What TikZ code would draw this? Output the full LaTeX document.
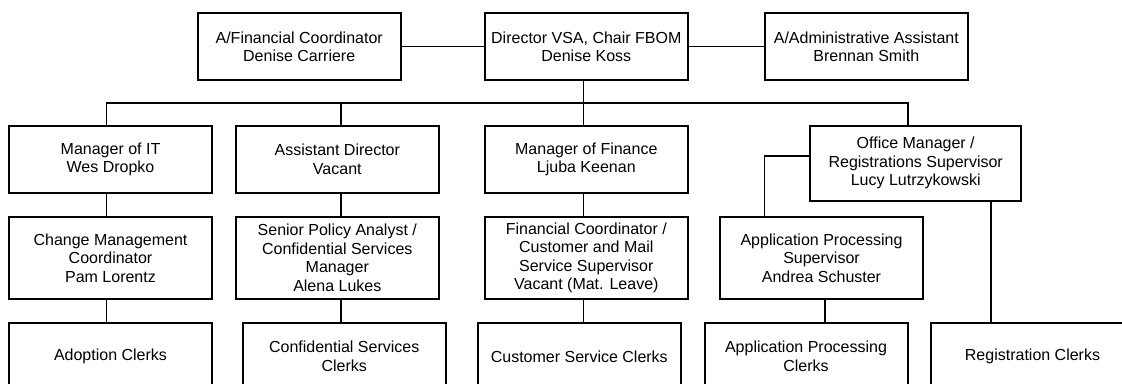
\documentclass[tikz,border=0pt]{standalone}
\usepackage{fontspec}
\setmainfont{Liberation Sans}
\begin{document}
\begin{tikzpicture}[x=1pt,y=-1pt,
  box/.style={draw=black,line width=2pt,fill=white,inner sep=0pt,align=center,
    minimum width=203pt,minimum height=66.7pt,font=\fontsize{16}{18.5}\selectfont},
  conn/.style={draw=black,line width=1.4pt}]
\useasboundingbox (0,0) rectangle (1122,383);
\clip (0,0) rectangle (1122,383);
\fill[white] (0,0) rectangle (1122,383);
% level 0
\node[box] (afin) at (299.2,46.7) {A/Financial Coordinator\\Denise Carriere};
\node[box] (dir) at (586.3,46.7) {Director VSA, Chair FBOM\\Denise Koss};
\node[box] (admin) at (866.3,46.7) {A/Administrative Assistant\\Brennan Smith};
% level 1
\node[box] (mit) at (110.5,159.3) {Manager of IT\\Wes Dropko};
\node[box] (asst) at (337.3,159.3) {Assistant Director\\Vacant};
\node[box] (mfin) at (586.3,159.3) {Manager of Finance\\Ljuba Keenan};
\node[box,minimum width=211pt,minimum height=74.7pt] (office) at (915.7,163.3) {Office Manager /\\Registrations Supervisor\\Lucy Lutrzykowski};
% level 2
\node[box,minimum height=81.4pt] (chg) at (110.5,258) {Change Management\\Coordinator\\Pam Lorentz};
\node[box,minimum height=81.4pt] (spa) at (337.3,258) {Senior Policy Analyst /\\Confidential Services\\Manager\\Alena Lukes};
\node[box,minimum height=81.4pt] (fc) at (586.3,258) {Financial Coordinator /\\Customer and Mail\\Service Supervisor\\Vacant (Mat. Leave)};
\node[box,minimum height=81.4pt] (aps) at (821.5,258) {Application Processing\\Supervisor\\Andrea Schuster};
% level 3
\node[box,minimum height=67pt] (adop) at (110.5,356.5) {Adoption Clerks};
\node[box,minimum height=67pt] (csc) at (344.2,356.5) {Confidential Services\\Clerks};
\node[box,minimum height=67pt] (cust) at (579.3,356.5) {Customer Service Clerks};
\node[box,minimum height=67pt] (apc) at (806,356.5) {Application Processing\\Clerks};
\node[box,minimum height=67pt] (reg) at (1032.5,356.5) {Registration Clerks};
% connectors
\coordinate (busy) at (0,103);
\coordinate (mitx) at ([xshift=-3.8pt]mit.north);
\coordinate (asstx) at ([xshift=3.7pt]asst.north);
\coordinate (dirx) at ([xshift=-2.8pt]dir.south);
\draw[conn] (afin.east) -- (dir.west);
\draw[conn] (dir.east) -- (admin.west);
\draw[conn] (dirx) -- (dirx |- mfin.north);
\draw[conn] (mitx) -- (mitx |- busy) -- ([xshift=-7.7pt]office.north |- busy) -- ([xshift=-7.7pt]office.north);
\draw[conn] (asstx) -- (asstx |- busy);
\draw[conn] (mitx |- mit.south) -- (mitx |- chg.north);
\draw[conn] (mitx |- chg.south) -- (mitx |- adop.north);
\draw[conn] (asstx |- asst.south) -- (asstx |- spa.north);
\draw[conn] (asstx |- spa.south) -- (asstx |- csc.north);
\draw[conn] (dirx |- mfin.south) -- (dirx |- fc.north);
\draw[conn] (dirx |- fc.south) -- (dirx |- cust.north);
\draw[conn] ([yshift=7.3pt]office.west) -| ([xshift=-57.2pt]aps.north);
\draw[conn] ([xshift=3.5pt]aps.south) -- ([xshift=3.5pt]aps.south |- apc.north);
\draw[conn] ([xshift=75.3pt]office.south) -- ([xshift=75.3pt]office.south |- reg.north);
\end{tikzpicture}
\end{document}
